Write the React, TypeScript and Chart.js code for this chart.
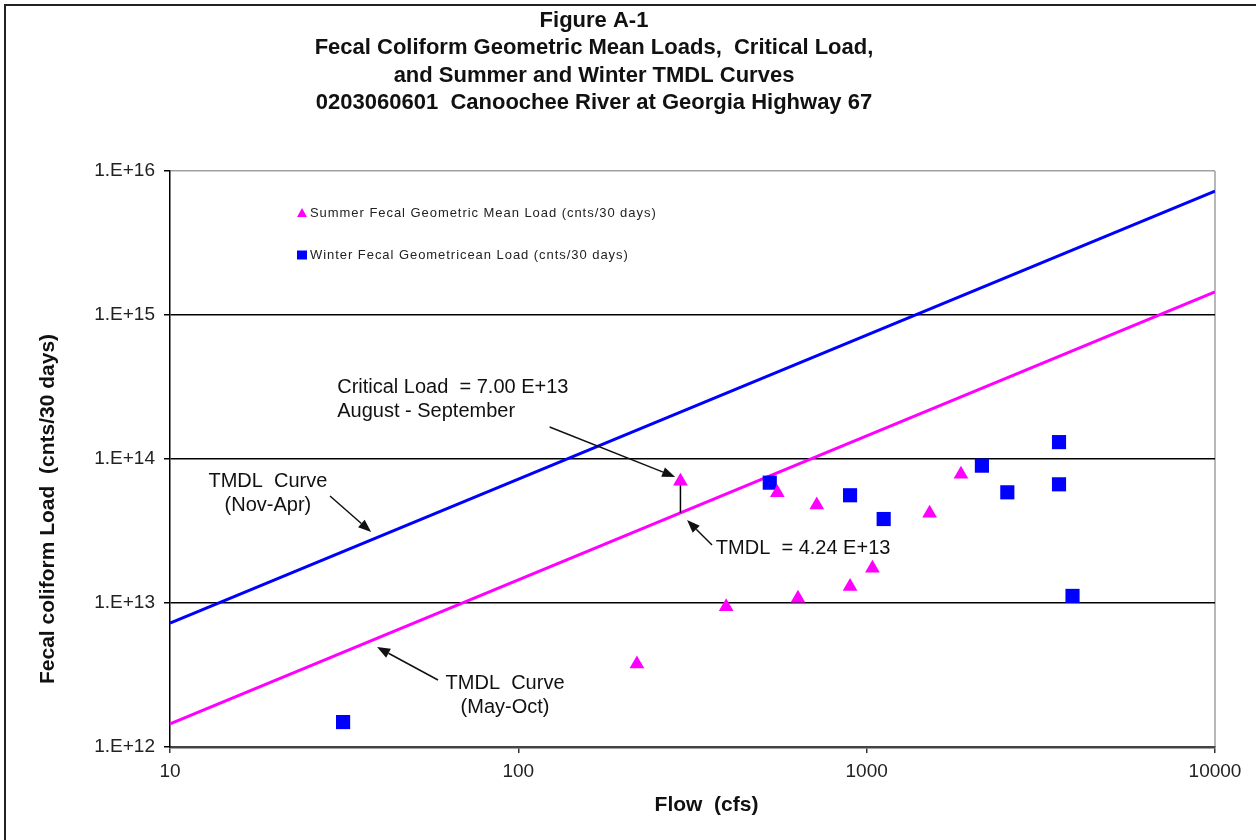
import React, { useEffect, useRef } from "react";
import { Chart, registerables } from "chart.js";

Chart.register(...registerables);

const FONT = "'Liberation Sans', Arial, Helvetica, sans-serif";

const titleLines = [
  "Figure A-1",
  "Fecal Coliform Geometric Mean Loads,  Critical Load,",
  "and Summer and Winter TMDL Curves",
  "0203060601  Canoochee River at Georgia Highway 67",
];
const xTitle = "Flow  (cfs)";
const yTitle = "Fecal coliform Load  (cnts/30 days)";

const xTickValues = [10, 100, 1000, 10000];
const yTickValues = [1e12, 1e13, 1e14, 1e15, 1e16];

// Summer fecal geometric mean loads (triangles)
const summerFlow = [219, 292, 395, 554, 635, 719, 896, 1039, 1516, 1865];
const summerLoad = [3.77e12, 7.0e13, 9.43e12, 5.83e13, 1.08e13, 4.8e13, 1.3e13, 1.74e13, 4.2e13, 7.83e13];

// Winter fecal geometric mean loads (squares)
const winterFlow = [31.4, 527, 896, 1119, 2142, 2534, 3566, 3566, 3899];
const winterLoad = [1.49e12, 6.85e13, 5.6e13, 3.83e13, 8.99e13, 5.87e13, 1.31e14, 6.67e13, 1.12e13];

// TMDL curves
const curveFlow = [10, 10000];
const winterCurveLoad = [7.26e12, 7.26e15];
const summerCurveLoad = [1.45e12, 1.45e15];

// Critical load vs TMDL segment
const criticalFlow = [292, 292];
const criticalLoad = [4.24e13, 7.0e13];

const legendLabels = [
  "Summer Fecal Geometric Mean Load (cnts/30 days)",
  "Winter Fecal Geometricean Load (cnts/30 days)",
];

// Annotation texts (anchored in data coordinates)
const noteLines = [
  ["Critical Load  = 7.00 E+13", "August - September"],
  ["TMDL  Curve", "(Nov-Apr)"],
  ["TMDL  = 4.24 E+13"],
  ["TMDL  Curve", "(May-Oct)"],
];
const noteX = [30.2, 19.1, 369, 91.6];
const noteY = [3.16e14, 7.03e13, 2.41e13, 2.78e12];
const noteAlign = ["left", "center", "left", "center"];

// Arrows (from -> to, data coordinates)
const arrowFromX = [123, 28.8, 359.8, 58.8];
const arrowFromY = [1.67e14, 5.53e13, 2.53e13, 2.92e12];
const arrowToX = [282, 37.8, 305, 39.3];
const arrowToY = [7.5e13, 3.11e13, 3.77e13, 4.94e12];

const toPts = (xs: number[], ys: number[]) => xs.map((x, i) => ({ x, y: ys[i] }));

function drawArrow(ctx: CanvasRenderingContext2D, x1: number, y1: number, x2: number, y2: number) {
  const ang = Math.atan2(y2 - y1, x2 - x1);
  const head = 13;
  const half = 5;
  const bx = x2 - head * Math.cos(ang);
  const by = y2 - head * Math.sin(ang);
  ctx.beginPath();
  ctx.moveTo(x1, y1);
  ctx.lineTo(bx, by);
  ctx.stroke();
  ctx.beginPath();
  ctx.moveTo(x2, y2);
  ctx.lineTo(bx + half * Math.sin(ang), by - half * Math.cos(ang));
  ctx.lineTo(bx - half * Math.sin(ang), by + half * Math.cos(ang));
  ctx.closePath();
  ctx.fill();
}

const decorPlugin = {
  id: "decor",
  beforeDraw(chart: any) {
    const ctx: CanvasRenderingContext2D = chart.ctx;
    const a = chart.chartArea;
    ctx.save();
    ctx.fillStyle = "#ffffff";
    ctx.fillRect(0, 0, chart.width, chart.height);
    ctx.strokeStyle = "#222";
    ctx.lineWidth = 2;
    ctx.beginPath();
    ctx.moveTo(5, chart.height);
    ctx.lineTo(5, 5);
    ctx.lineTo(chart.width, 5);
    ctx.stroke();
    ctx.strokeStyle = "#a0a0a0";
    ctx.lineWidth = 1.5;
    ctx.beginPath();
    ctx.moveTo(a.right, a.top);
    ctx.lineTo(a.right, a.bottom);
    ctx.stroke();
    ctx.restore();
  },
  afterDraw(chart: any) {
    const ctx: CanvasRenderingContext2D = chart.ctx;
    const a = chart.chartArea;
    const xs = chart.scales.x;
    const ys = chart.scales.y;
    ctx.save();
    // Title
    ctx.fillStyle = "#111";
    ctx.font = `bold 22px ${FONT}`;
    ctx.textAlign = "center";
    ctx.textBaseline = "middle";
    titleLines.forEach((t, i) => ctx.fillText(t, 594, 20.5 + i * 27.6));
    // Axis titles
    ctx.font = `bold 21px ${FONT}`;
    ctx.fillText(xTitle, (a.left + a.right) / 2 + 14, 805);
    ctx.save();
    ctx.translate(48, 509);
    ctx.rotate(-Math.PI / 2);
    ctx.fillText(yTitle, 0, 0);
    ctx.restore();

    // Legend
    ctx.font = `13px ${FONT}`;
    (ctx as any).letterSpacing = "0.95px";
    ctx.textAlign = "left";
    ctx.fillStyle = "#FF00FF";
    const lx = a.left + 132;
    const ly1 = a.top + 42;
    const ly2 = a.top + 84;
    ctx.beginPath();
    ctx.moveTo(lx, ly1 - 5);
    ctx.lineTo(lx + 5, ly1 + 4);
    ctx.lineTo(lx - 5, ly1 + 4);
    ctx.closePath();
    ctx.fill();
    ctx.fillStyle = "#0000FF";
    ctx.fillRect(lx - 5, ly2 - 4.5, 10, 9);
    ctx.fillStyle = "#222";
    ctx.fillText(legendLabels[0], lx + 8, ly1);
    ctx.fillText(legendLabels[1], lx + 8, ly2);
    (ctx as any).letterSpacing = "0px";

    // Annotation arrows
    ctx.strokeStyle = "#111";
    ctx.fillStyle = "#111";
    ctx.lineWidth = 1.5;
    arrowFromX.forEach((_, i) => {
      drawArrow(
        ctx,
        xs.getPixelForValue(arrowFromX[i]),
        ys.getPixelForValue(arrowFromY[i]),
        xs.getPixelForValue(arrowToX[i]),
        ys.getPixelForValue(arrowToY[i])
      );
    });
    // Annotation texts
    ctx.font = `20px ${FONT}`;
    ctx.fillStyle = "#111";
    noteLines.forEach((lines, i) => {
      ctx.textAlign = noteAlign[i] as CanvasTextAlign;
      const px = xs.getPixelForValue(noteX[i]);
      const py = ys.getPixelForValue(noteY[i]);
      lines.forEach((l, j) => ctx.fillText(l, px, py + j * 24.5));
    });
    ctx.restore();
  },
};

export default function App() {
  const ref = useRef<HTMLCanvasElement | null>(null);
  useEffect(() => {
    if (!ref.current) return;
    const chart = new Chart(ref.current, {
      type: "scatter",
      data: {
        datasets: [
          {
            label: legendLabels[0],
            data: toPts(summerFlow, summerLoad),
            pointStyle: "triangle",
            pointRadius: 8.5,
            pointHoverRadius: 8.5,
            backgroundColor: "#FF00FF",
            borderColor: "#FF00FF",
            borderWidth: 0,
            order: 0,
          },
          {
            label: legendLabels[1],
            data: toPts(winterFlow, winterLoad),
            pointStyle: "rect",
            pointRadius: 10,
            pointHoverRadius: 10,
            backgroundColor: "#0000FF",
            borderColor: "#0000FF",
            borderWidth: 0,
            order: 0,
          },
          {
            label: "Winter TMDL",
            data: toPts(curveFlow, winterCurveLoad),
            showLine: true,
            borderColor: "#0000FF",
            borderWidth: 3,
            pointRadius: 0,
            order: 2,
          },
          {
            label: "Summer TMDL",
            data: toPts(curveFlow, summerCurveLoad),
            showLine: true,
            borderColor: "#FF00FF",
            borderWidth: 3,
            pointRadius: 0,
            order: 2,
          },
          {
            label: "Critical",
            data: toPts(criticalFlow, criticalLoad),
            showLine: true,
            borderColor: "#000000",
            borderWidth: 1.5,
            pointRadius: 0,
            order: 1,
          },
        ],
      },
      options: {
        responsive: false,
        animation: false,
        events: [],
        layout: { padding: { top: 171, right: 41, left: 0, bottom: 0 } },
        plugins: {
          legend: { display: false },
          title: { display: false },
          tooltip: { enabled: false },
        },
        scales: {
          x: {
            type: "logarithmic",
            min: 10,
            max: 10000,
            afterBuildTicks: (axis: any) => {
              axis.ticks = xTickValues.map((v) => ({ value: v }));
            },
            afterFit: (scale: any) => {
              scale.height = 93;
            },
            ticks: {
              autoSkip: false,
              maxRotation: 0,
              padding: 7,
              color: "#222",
              font: { family: FONT, size: 19 },
              callback: (v: any) => String(v),
            },
            grid: {
              drawOnChartArea: false,
              drawTicks: true,
              tickLength: 6,
              color: "#333",
              lineWidth: 1.5,
            },
            border: { display: true, color: "#444", width: 2.5 },
          },
          y: {
            type: "logarithmic",
            min: 1e12,
            max: 1e16,
            afterBuildTicks: (axis: any) => {
              axis.ticks = yTickValues.map((v) => ({ value: v }));
            },
            afterFit: (scale: any) => {
              scale.width = 170;
            },
            ticks: {
              autoSkip: false,
              padding: 9,
              color: "#222",
              font: { family: FONT, size: 19 },
              callback: (v: any) => `1.E+${Math.round(Math.log10(Number(v)))}`,
            },
            grid: {
              drawTicks: true,
              tickLength: 6,
              tickColor: "#000",
              lineWidth: 1.5,
              color: (c: any) => (c.tick && c.tick.value === 1e16 ? "#a0a0a0" : "#000"),
            },
            border: { display: true, color: "#000", width: 1.5 },
          },
        },
      },
      plugins: [decorPlugin],
    });
    return () => chart.destroy();
  }, []);

  return (
    <div style={{ position: "absolute", left: 0, top: 0, width: 1256, height: 840, background: "#fff" }}>
      <canvas ref={ref} width={1256} height={840} style={{ width: 1256, height: 840, display: "block" }} />
    </div>
  );
}
